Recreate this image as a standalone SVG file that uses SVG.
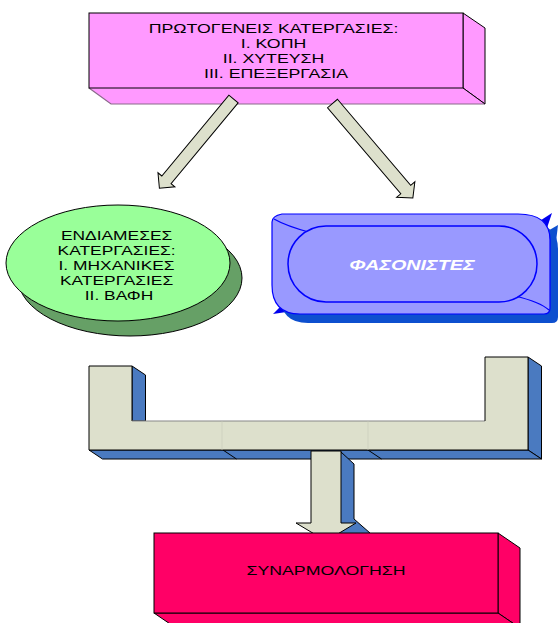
<svg xmlns="http://www.w3.org/2000/svg" width="559" height="623" viewBox="0 0 559 623">
<style>
  .t { font-family: "Liberation Sans", Arial, sans-serif; font-size: 12px; fill: #000; text-anchor: middle; }
  .edge { stroke: #000; stroke-width: 1; stroke-linejoin: miter; }
  .beige { fill: #DDE0CC; }
  .blue3d { fill: #4A7AC0; }
  .pink { fill: #FF99FF; }
  .red { fill: #FF0066; }
</style>
<rect width="559" height="623" fill="#fff"/>

<g id="primary">
  <polygon class="pink edge" points="463,13 485,28 485,104 463,88"/>
  <polygon class="pink" points="89,88 463,88 485,104 111,104"/>
  <polyline points="89,88 111,104 485,104" fill="none" stroke="#8a6a8a" stroke-width="1.2"/>
  <line x1="463" y1="88" x2="485" y2="104" stroke="#000"/>
  <rect class="pink edge" x="89" y="13" width="374" height="75"/>
  <text class="t" transform="translate(276,32.5) scale(1.48,1)">
    <tspan x="0" y="0">ΠΡΩΤΟΓΕΝΕΙΣ ΚΑΤΕΡΓΑΣΙΕΣ:</tspan>
    <tspan x="0" y="15.1">Ι. ΚΟΠΗ</tspan>
    <tspan x="0" y="30.2">ΙΙ. ΧΥΤΕΥΣΗ</tspan>
    <tspan x="0" y="45.3">ΙΙΙ. ΕΠΕΞΕΡΓΑΣΙΑ</tspan>
  </text>
</g>

<g id="intermediate">
  <ellipse cx="130" cy="278" rx="112" ry="58" fill="#66A066" class="edge"/>
  <ellipse cx="118" cy="263" rx="112" ry="58" fill="#99FF99" class="edge"/>
  <text class="t" transform="translate(119,240) scale(1.45,1)">
    <tspan x="0" y="0">ΕΝΔΙΑΜΕΣΕΣ</tspan>
    <tspan x="0" y="15">ΚΑΤΕΡΓΑΣΙΕΣ:</tspan>
    <tspan x="0" y="30">Ι. ΜΗΧΑΝΙΚΕΣ</tspan>
    <tspan x="0" y="45">ΚΑΤΕΡΓΑΣΙΕΣ</tspan>
    <tspan x="0" y="60">ΙΙ. ΒΑΦΗ</tspan>
  </text>
</g>

<g id="fasonistes">
  <polygon points="535,224 552,213 546,231" fill="#0000EE"/>
  <polygon points="273,314 285,302 293,311" fill="#0000EE"/>
  <path d="M290,223 H526 Q558,223 558,249 V317 Q558,323 552,323 H308 Q280,323 280,294 V231 Q280,225 290,223 Z" fill="#0D4FCF"/>
  <polygon points="546,232 558,225 556,242" fill="#0D4FCF"/>
  <path d="M282,214 H518 Q550,214 550,240 V308 Q550,314 544,314 H300 Q272,314 272,285 V222 Q272,216 282,214 Z" fill="#9999FF" stroke="#0000FF" stroke-width="1.2"/>
  <path d="M274,219 Q286,226 312,233" fill="none" stroke="#0000FF" stroke-width="1.2"/>
  <path d="M515,296 Q540,302 549,310" fill="none" stroke="#0000FF" stroke-width="1.2"/>
  <rect x="288" y="226" width="249" height="76" rx="38" ry="38" fill="#9999FF" stroke="#0000FF" stroke-width="1.5"/>
  <text transform="translate(412,269.5) scale(1.32,1)" style="font-family:'Liberation Sans',Arial,sans-serif;font-size:15px;font-weight:bold;font-style:italic;fill:#fff;text-anchor:middle">ΦΑΣΟΝΙΣΤΕΣ</text>
</g>

<g id="connectors">
  <g transform="translate(233.5,99) rotate(129.7)">
    <polygon class="beige edge" points="0,-6 105,-6 105,-11 116,0 105,11 105,6 0,6"/>
  </g>
  <g transform="translate(332.5,103.5) rotate(49.6)">
    <polygon class="beige edge" points="0,-6.5 113,-6.5 113,-12 124,0 113,12 113,6.5 0,6.5"/>
  </g>
  <polygon class="blue3d edge" points="132,366 145.5,375 145.5,421 132,421"/>
  <polygon class="blue3d edge" points="528,357 541.5,366 541.5,459 528,450"/>
  <polygon class="blue3d edge" points="89,450 528,450 541.5,459 102.5,459"/>
  <line class="edge" x1="223" y1="450" x2="236.5" y2="459"/>
  <line class="edge" x1="368" y1="450" x2="381.5" y2="459"/>
  <polygon class="beige" points="89,366 132,366 132,421 485,421 485,357 528,357 528,450 89,450"/>
  <polyline points="89,450 89,366 132,366 132,421" fill="none" stroke="#000"/>
  <line x1="132" y1="421" x2="485" y2="421" stroke="#888" stroke-width="1.2"/>
  <polyline points="485,421 485,357 528,357 528,450 89,450" fill="none" stroke="#000"/>
  <line x1="222" y1="421" x2="222" y2="450" stroke="#c8cab8" stroke-width="0.6"/>
  <line x1="368" y1="421" x2="368" y2="450" stroke="#c8cab8" stroke-width="0.6"/>
  <polygon class="blue3d edge" points="341,452 354,464 354,519 370,533 340,545 326,540"/>
  <polygon class="beige edge" points="311,451 341,451 341,523 356,523 326,541 296,523 311,523"/>
</g>

<g id="assembly">
  <polygon class="red edge" points="498,533 520,548 520,628 498,613"/>
  <polygon class="red edge" points="154,613 498,613 520,628 176,628"/>
  <rect class="red edge" x="154" y="533" width="344" height="80"/>
  <text class="t" transform="translate(326,575) scale(1.48,1)">ΣΥΝΑΡΜΟΛΟΓΗΣΗ</text>
</g>
</svg>
